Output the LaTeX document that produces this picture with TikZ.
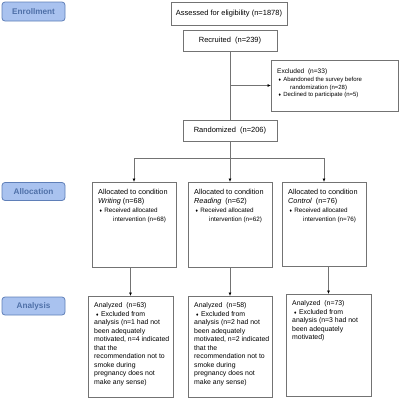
\documentclass[tikz,border=0pt]{standalone}
\usepackage{fontspec}
\setmainfont{Liberation Sans}
\newfontfamily\symfont{DejaVu Sans}
\usetikzlibrary{arrows.meta}

\definecolor{phasefill}{HTML}{A9C2EF}
\definecolor{phaseline}{HTML}{5F7FB8}
\definecolor{phasetext}{HTML}{4F70A8}
\newcommand{\dmd}{{\symfont\fontsize{3.8}{3.8}\selectfont\char"2666}}

\begin{document}
\begin{tikzpicture}[x=1pt,y=-1pt,
    box/.style={draw=black!55,line width=0.8pt,inner sep=0pt,outer sep=0pt,font=\fontsize{7.5}{9}\selectfont},
    phase/.style={draw=phaseline,fill=phasefill,rounded corners=3pt,line width=0.8pt,
        minimum width=63pt,minimum height=18pt,inner sep=0pt,text=phasetext,
        font=\fontsize{8.2}{9}\selectfont\bfseries},
    txt/.style={anchor=north west,inner sep=0pt,align=left,font=\fontsize{7.3}{9}\selectfont},
    bul/.style={txt,font=\fontsize{6.3}{9}\selectfont},
    small/.style={txt,font=\fontsize{6}{7.6}\selectfont},
    ana/.style={txt,font=\fontsize{6.9}{8.5}\selectfont},
    link/.style={draw=black!55,line width=0.9pt},
    arr/.style={link,-{Latex[color=black,length=3.5pt,width=3pt]}}]
    \useasboundingbox (0,0) rectangle (400,400);

    % phase labels on the left
    \node[phase,minimum height=19pt] (phEnroll) at (33.5,11.5) {Enrollment};
    \node[phase] (phAlloc) at (33.5,191.5) {Allocation};
    \node[phase] (phAnalysis) at (33.5,306) {Analysis};

    % enrollment
    \node[box,minimum width=116pt,minimum height=23pt] (assess) at (229,13.5) {Assessed for eligibility (n=1878)};
    \node[box,minimum width=94pt,minimum height=21pt] (recruit) at (230,40.5) {Recruited\ \ (n=239)};
    \node[box,minimum width=127pt,minimum height=51pt] (excl) at (334.5,85.5) {};
    \node[txt,font=\fontsize{6.6}{8}\selectfont] (exclTitle) at ([shift={(6,8.5)}]excl.north west) {Excluded\ \ (n=33)};
    \node[small] (exclList) at ([shift={(7,17)}]excl.north west)
        {\dmd\ Abandoned the survey before\\\hspace{12pt}randomization (n=28)\\\dmd\ Declined to participate (n=5)};
    \node[box,minimum width=94pt,minimum height=21pt] (random) at (230,130.5) {Randomized\ \ (n=206)};

    % allocation
    \node[box,minimum width=84pt,minimum height=85pt] (allocW) at (134,224.5) {};
    \node[box,minimum width=84pt,minimum height=85pt] (allocR) at (230,224.5) {};
    \node[box,minimum width=84pt,minimum height=84pt] (allocC) at (324,224) {};
    \node[txt] (allocWtxt) at ([shift={(6,7.5)}]allocW.north west) {Allocated to condition\\\textit{Writing} (n=68)};
    \node[txt] (allocRtxt) at ([shift={(6,7.5)}]allocR.north west) {Allocated to condition\\\textit{Reading}\ \ (n=62)};
    \node[txt] (allocCtxt) at ([shift={(6,7.5)}]allocC.north west) {Allocated to condition\\\textit{Control}\ \ (n=76)};
    \node[bul] (allocWbul) at ([shift={(7,26)}]allocW.north west) {\dmd\ Received allocated\\\hspace{14pt}intervention (n=68)};
    \node[bul] (allocRbul) at ([shift={(7,26)}]allocR.north west) {\dmd\ Received allocated\\\hspace{14pt}intervention (n=62)};
    \node[bul] (allocCbul) at ([shift={(7,26)}]allocC.north west) {\dmd\ Received allocated\\\hspace{14pt}intervention (n=76)};

    % analysis
    \node[box,minimum width=85pt,minimum height=101pt] (anaW) at (130.5,346.5) {};
    \node[box,minimum width=84pt,minimum height=101pt] (anaR) at (230,346.5) {};
    \node[box,minimum width=85pt,minimum height=102pt] (anaC) at (328.5,345) {};
    \node[ana] (anaWtxt) at ([shift={(6,6.5)}]anaW.north west)
        {Analyzed\ \ (n=63)\\\hspace{1.5pt}\dmd\ Excluded from\\analysis (n=1 had not\\been adequately\\motivated, n=4 indicated\\that the\\recommendation not to\\smoke during\\pregnancy does not\\make any sense)};
    \node[ana] (anaRtxt) at ([shift={(6,6.5)}]anaR.north west)
        {Analyzed\ \ (n=58)\\\hspace{1.5pt}\dmd\ Excluded from\\analysis (n=2 had not\\been adequately\\motivated, n=2 indicated\\that the\\recommendation not to\\smoke during\\pregnancy does not\\make any sense)};
    \node[ana] (anaCtxt) at ([shift={(6,6.5)}]anaC.north west)
        {Analyzed\ \ (n=73)\\\hspace{1.5pt}\dmd\ Excluded from\\analysis (n=3 had not\\been adequately\\motivated)};

    % connectors
    \draw[link] (recruit) -- (random);
    \draw[arr] (recruit.south |- excl.west) -- (excl.west);
    \coordinate (split) at ([yshift=-17pt]random.south);
    \draw[link] (random) -- (split);
    \draw[link] (split -| allocW) -- (split -| allocC);
    \foreach \c in {W,R,C}
        \draw[arr] (split -| alloc\c) -- (alloc\c.north);
    \foreach \c in {W,R,C}
        \draw[arr] (ana\c.north |- alloc\c.south) -- (ana\c.north);
\end{tikzpicture}
\end{document}
